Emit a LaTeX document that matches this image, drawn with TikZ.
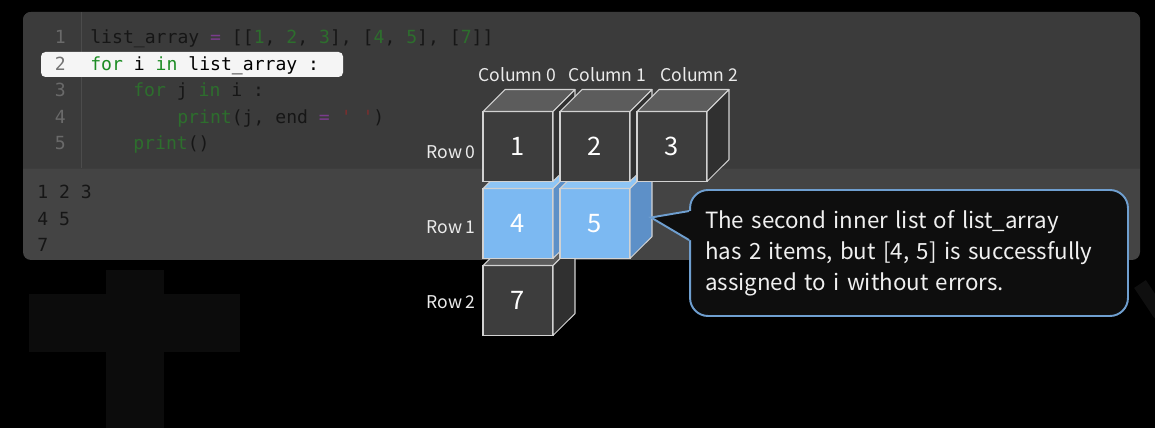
\documentclass[tikz,border=0pt]{standalone}
\usepackage{fontspec}
\usepackage{xcolor}
\usepackage{tikz}
\newfontfamily\uifont[WordSpace=0.85]{Noto Sans CJK KR}
\newfontfamily\codefont{DejaVu Sans Mono}
\definecolor{panelgray}{HTML}{444444}
\definecolor{codegray}{HTML}{3B3B3B}
\definecolor{crossgray}{HTML}{0C0C0C}
\definecolor{codeblack}{HTML}{161616}
\definecolor{codegreen}{HTML}{2D6E2D}
\definecolor{codebright}{HTML}{1C8C24}
\definecolor{codepurple}{HTML}{7A3C8C}
\definecolor{codered}{HTML}{7A2E2E}
\definecolor{linegray}{HTML}{6A6A6A}
\definecolor{edgegray}{HTML}{D2D2D2}
\definecolor{cubefront}{HTML}{3D3D3D}
\definecolor{cubetop}{HTML}{5C5C5C}
\definecolor{cubeside}{HTML}{303030}
\definecolor{bluefront}{HTML}{7CB9F2}
\definecolor{bluetop}{HTML}{8EC5F5}
\definecolor{blueside}{HTML}{5D90C8}
\definecolor{noteblue}{HTML}{6F9FD0}
\definecolor{notefill}{HTML}{0E0E0E}
\newcommand{\codekw}[1]{\textcolor{codegreen}{#1}}
\newcommand{\codeop}[1]{\textcolor{codepurple}{#1}}
\hyphenpenalty=10000
\usetikzlibrary{positioning, calc}

\begin{document}
\begin{tikzpicture}[
    x=0.02cm, y=-0.02cm,
    codeline/.style={anchor=base west, inner sep=0, font=\codefont\fontsize{10.3}{12}\selectfont, text=codeblack},
    lineno/.style={anchor=base east, inner sep=0, font=\codefont\fontsize{10.3}{12}\selectfont, text=linegray},
    axislabel/.style={inner sep=0, text=white!92!black, font=\uifont\fontsize{10}{12}\selectfont},
    cube/.style={draw=edgegray, line width=0.6pt, outer sep=0, inner sep=0, minimum width=1.4cm, minimum height=1.4cm, text=white, font=\uifont\fontsize{14.5}{17}\selectfont},
    face/.style={draw=edgegray, line width=0.6pt, line join=round},
    note/.style={rectangle, rounded corners=0.36cm, draw=noteblue, line width=1.1pt, fill=notefill, minimum width=8.76cm, minimum height=2.52cm, text width=8.16cm, align=left, inner xsep=0.3cm, inner ysep=0, text=white!94!black, font=\uifont\fontsize{12.7}{17.6}\selectfont}
]
    % Background
    \useasboundingbox (0,0) rectangle (1155,428);
    \fill[black] (0,0) rectangle (1155,428);
    \fill[crossgray] (106,270) rectangle (164,428);
    \fill[crossgray] (29,294) rectangle (240,352);
    \draw[line width=8pt, color=black!94!white] (1140,284) -- (1160,314);

    % Editor panel
    \fill[panelgray, rounded corners=0.16cm] (23,12) rectangle (1140,260);
    \begin{scope}
        \clip[rounded corners=0.16cm] (23,12) rectangle (1140,260);
        \fill[codegray] (23,12) rectangle (1140,168);
    \end{scope}
    \draw[black!76!white, line width=0.4pt] (23,168) -- (1140,168);
    \draw[black!70!white, line width=0.4pt] (81,12) -- (81,168);
    \fill[white!96!black, rounded corners=0.09cm] (41,52) rectangle (343,77);

    % Code lines
    \node[lineno] (n1) at (66,44) {1};
    \node[lineno, text=black!55!white] (n2) at (66,70.5) {2};
    \node[lineno] (n3) at (66,97) {3};
    \node[lineno] (n4) at (66,123.5) {4};
    \node[lineno] (n5) at (66,150) {5};
    \node[codeline] (l1) at (90,44) {list\_array \codeop{=} [[\codekw{1}, \codekw{2}, \codekw{3}], [\codekw{4}, \codekw{5}], [\codekw{7}]]};
    \node[codeline, text=black] (l2) at (90,70.5) {\textcolor{codebright}{for} i \textcolor{codebright}{in} list\_array :};
    \node[codeline] (l3) at (133,97) {\codekw{for} j \codekw{in} i :};
    \node[codeline] (l4) at (177,123.5) {\codekw{print}(j, end \codeop{=} \textcolor{codered}{' '})};
    \node[codeline] (l5) at (133,150) {\codekw{print}()};

    % Output
    \node[codeline] (o1) at (37,199) {1 2 3};
    \node[codeline] (o2) at (37,225.5) {4 5};
    \node[codeline] (o3) at (37,252) {7};

    % Column and row labels
    \node[axislabel, anchor=base] (col0) at (517,82) {Column 0};
    \node[axislabel, anchor=base] (col1) at (607,82) {Column 1};
    \node[axislabel, anchor=base] (col2) at (699,82) {Column 2};
    \node[axislabel, anchor=base east] (row0) at (476,159) {Row 0};
    \node[axislabel, anchor=base east] (row1) at (476,234) {Row 1};
    \node[axislabel, anchor=base east] (row2) at (476,309) {Row 2};

    % Cubes, back rows first
    \foreach \col/\row/\num/\fr/\tp/\sd in {0/2/7/cubefront/cubetop/cubeside, 0/1/4/bluefront/bluetop/blueside, 1/1/5/bluefront/bluetop/blueside, 0/0/1/cubefront/cubetop/cubeside, 1/0/2/cubefront/cubetop/cubeside, 2/0/3/cubefront/cubetop/cubeside}{
        \node[cube, fill=\fr] (c\num) at (518+77*\col, 146.5+77*\row) {\num};
        \filldraw[face, fill=\tp] (c\num.north west) -- ++(22,-22) -- ++(70,0) -- (c\num.north east) -- cycle;
        \filldraw[face, fill=\sd] (c\num.north east) -- ++(22,-22) -- ++(0,70) -- (c\num.south east) -- cycle;
    }

    % Callout
    \node[note] (msg) at (909,253) {The second inner list of list\_array\\has 2 items, but [4, 5] is successfully\\assigned to i without errors.};
    \coordinate (tip) at ($(c5.east)+(21,-6)$);
    \coordinate (pa) at ($(msg.north west)+(0,22)$);
    \coordinate (pb) at ($(msg.north west)+(0,51)$);
    \fill[notefill] ($(pa)+(3,0)$) -- (pa) -- (tip) -- (pb) -- ($(pb)+(3,0)$) -- cycle;
    \draw[noteblue, line width=1.1pt, line join=miter] (pa) -- (tip) -- (pb);

\end{tikzpicture}
\end{document}
